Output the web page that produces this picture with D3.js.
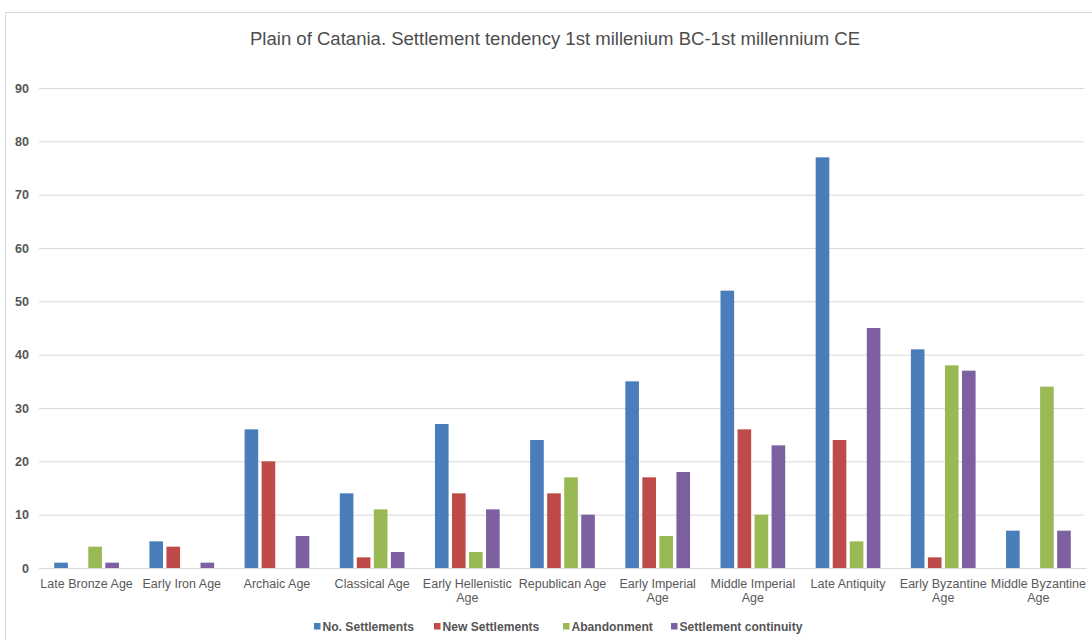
<!DOCTYPE html>
<html>
<head>
<meta charset="utf-8">
<script src="https://cdn.jsdelivr.net/npm/d3@7"></script>
<style>
  html, body { margin: 0; padding: 0; background: #fff; }
  svg { display: block; font-family: "Liberation Sans", Arial, Helvetica, sans-serif; }
</style>
</head>
<body>
<svg id="chart" width="1092" height="640"></svg>
<script>
// Periods on the category axis
const categories = [
  "Late Bronze Age", "Early Iron Age", "Archaic Age", "Classical Age",
  "Early Hellenistic Age", "Republican Age", "Early Imperial Age",
  "Middle Imperial Age", "Late Antiquity", "Early Byzantine Age",
  "Middle Byzantine Age"
];

// Series names and values per period
const seriesNames = ["No. Settlements", "New Settlements", "Abandonment", "Settlement continuity"];
const noSettlements   = [1, 5, 26, 14, 27, 24, 35, 52, 77, 41, 7];
const newSettlements  = [0, 4, 20, 2, 14, 14, 17, 26, 24, 2, 0];
const abandonment     = [4, 0, 0, 11, 3, 17, 6, 10, 5, 38, 34];
const continuity      = [1, 1, 6, 3, 11, 10, 18, 23, 45, 37, 7];
const seriesColors = ["#4a7ebb", "#be4b48", "#98b954", "#7d60a0"];

// Value axis ticks
const yTicks = [0, 10, 20, 30, 40, 50, 60, 70, 80, 90];

const titleText = "Plain of Catania. Settlement tendency 1st millenium BC-1st millennium CE";

const seriesValues = [noSettlements, newSettlements, abandonment, continuity];
const rows = categories.map((c, i) => ({
  category: c,
  values: seriesNames.map((s, k) => ({ series: s, value: seriesValues[k][i] }))
}));

const svg = d3.select("#chart");

// Outer chart frame (top and left edges)
svg.append("line").attr("x1", 5).attr("x2", 1092).attr("y1", 12.5).attr("y2", 12.5)
  .attr("stroke", "#d9d9d9").attr("stroke-width", 1);
svg.append("line").attr("x1", 5.5).attr("x2", 5.5).attr("y1", 12).attr("y2", 640)
  .attr("stroke", "#d9d9d9").attr("stroke-width", 1);

const plot = { left: 39, right: 1086, top: 88, bottom: 568 };

const x0 = d3.scaleBand().domain(categories)
  .range([plot.left, plot.right]).paddingInner(0.32).paddingOuter(0.16);
const x1 = d3.scaleBand().domain(seriesNames)
  .range([0, x0.bandwidth()]).paddingInner(0.2);
const y = d3.scaleLinear().domain([0, 90]).range([plot.bottom, plot.top]);
const color = d3.scaleOrdinal().domain(seriesNames).range(seriesColors);

// Title
svg.append("text")
  .attr("x", 555).attr("y", 45)
  .attr("text-anchor", "middle")
  .attr("font-size", 17.5)
  .attr("textLength", 610)
  .attr("lengthAdjust", "spacingAndGlyphs")
  .attr("fill", "#4d4d4d")
  .text(titleText);

// Gridlines + value labels
const yAxis = d3.axisLeft(y).tickValues(yTicks)
  .tickSize(-(plot.right - 2 - plot.left)).tickPadding(10);
const yg = svg.append("g").attr("transform", `translate(${plot.left},0)`).call(yAxis);
yg.select(".domain").remove();
yg.selectAll(".tick line").attr("stroke", "#d9d9d9").attr("stroke-width", 1);
yg.selectAll(".tick text")
  .attr("font-size", 12.5).attr("font-weight", "bold").attr("fill", "#555")
  .attr("font-family", "'Liberation Sans', Arial, sans-serif");

// Bars
const groups = svg.append("g").selectAll("g")
  .data(rows).join("g")
  .attr("transform", d => `translate(${x0(d.category)},0)`);
groups.selectAll("rect")
  .data(d => d.values.filter(v => v.value > 0))
  .join("rect")
  .attr("x", d => x1(d.series))
  .attr("width", x1.bandwidth())
  .attr("y", d => y(d.value))
  .attr("height", d => y(0) - y(d.value))
  .attr("fill", d => color(d.series));

// Category axis
const xAxis = d3.axisBottom(x0).tickSize(0).tickPadding(11);
const xg = svg.append("g").attr("transform", `translate(0,${plot.bottom})`).call(xAxis);
xg.select(".domain").attr("stroke", "#d9d9d9");
xg.selectAll(".tick text")
  .attr("font-size", 12.5).attr("fill", "#595959")
  .attr("font-family", "'Liberation Sans', Arial, sans-serif")
  .call(wrapLastWord, 100);

// Long labels drop their last word onto a second line
function wrapLastWord(texts, width) {
  texts.each(function () {
    const t = d3.select(this);
    if (this.getComputedTextLength() <= width) return;
    const words = t.text().split(/\s+/);
    const last = words.pop();
    const yAttr = t.attr("y"), dy = t.attr("dy");
    t.text(null);
    t.append("tspan").attr("x", 0).attr("y", yAttr).attr("dy", dy).text(words.join(" "));
    t.append("tspan").attr("x", 0).attr("y", yAttr)
      .attr("dy", (parseFloat(dy) + 1.16) + "em").text(last);
  });
}

// Legend
const legendX = [314, 434, 563, 671];
const legend = svg.append("g").selectAll("g")
  .data(seriesNames).join("g")
  .attr("transform", (d, i) => `translate(${legendX[i]},631)`);
legend.append("rect").attr("x", 0).attr("y", -8).attr("width", 6.5).attr("height", 6.5)
  .attr("fill", d => color(d));
legend.append("text").attr("x", 8.5).attr("y", 0)
  .attr("font-size", 12.1).attr("font-weight", "bold").attr("fill", "#555")
  .text(d => d);
</script>
</body>
</html>
